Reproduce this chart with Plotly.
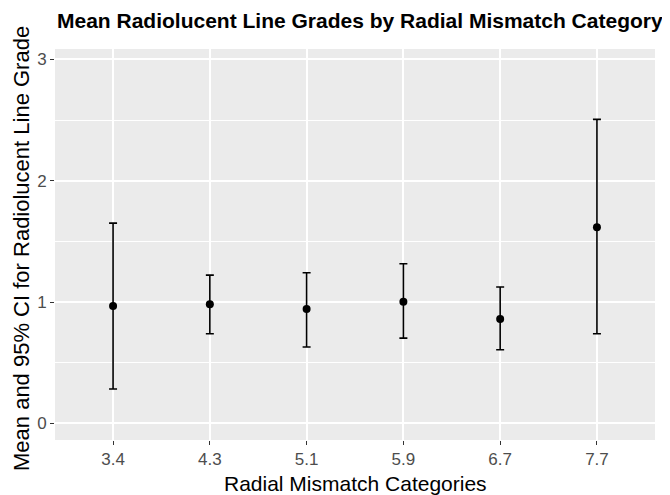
import plotly.graph_objects as go

categories = ["3.4", "4.3", "5.1", "5.9", "6.7", "7.7"]
means = [0.967, 0.981, 0.942, 1.003, 0.860, 1.616]
upper = [1.651, 1.222, 1.242, 1.316, 1.124, 2.506]
lower = [0.283, 0.739, 0.629, 0.703, 0.607, 0.739]
y_ticks = [0, 1, 2, 3]

err_plus = [u - m for u, m in zip(upper, means)]
err_minus = [m - l for m, l in zip(means, lower)]

FONT = "Liberation Sans, Arial, sans-serif"
OFF = 8  # default page body margin
W, H = 670 - OFF, 495 - OFF
# target panel box in window pixels
PL, PR, PT, PB = 55, 655, 49, 440
ml, mr, mt, mb = PL - OFF, W - (PR - OFF), PT - OFF, H - (PB - OFF)
pw, ph = PR - PL, PB - PT

fig = go.Figure()
fig.add_trace(go.Scatter(
    x=categories, y=means, mode="markers",
    marker=dict(color="black", size=8),
    error_y=dict(type="data", symmetric=False, array=err_plus, arrayminus=err_minus,
                 color="black", thickness=1.6, width=4),
    showlegend=False,
))

fig.update_layout(
    width=W, height=H,
    margin=dict(l=ml, r=mr, t=mt, b=mb, autoexpand=False),
    paper_bgcolor="white",
    plot_bgcolor="#EBEBEB",
    font=dict(family=FONT, color="black"),
    title=dict(text="<b>Mean Radiolucent Line Grades by Radial Mismatch Category</b>",
               font=dict(size=21, family=FONT, color="black"),
               x=(57 - OFF) / W, xanchor="left", xref="container",
               y=1 - (21 - OFF) / H, yanchor="middle", yref="container"),
    xaxis=dict(
        type="category", range=[-0.6, 5.6], automargin=False,
        showgrid=True, gridcolor="white", gridwidth=2,
        ticks="outside", ticklen=4, tickcolor="#333333", tickwidth=1,
        tickfont=dict(size=17, color="#4D4D4D", family=FONT),
        zeroline=False, showline=False,
    ),
    yaxis=dict(
        range=[-0.137, 3.086], automargin=False,
        tickvals=y_ticks,
        showgrid=True, gridcolor="white", gridwidth=2,
        minor=dict(tickvals=[0.5, 1.5, 2.5], showgrid=True, gridcolor="white", gridwidth=1.2, ticks=""),
        ticks="outside", ticklen=4, tickcolor="#333333", tickwidth=1,
        tickfont=dict(size=17, color="#4D4D4D", family=FONT),
        zeroline=False, showline=False,
    ),
    annotations=[
        dict(text="Radial Mismatch Categories", font=dict(size=21, family=FONT, color="black"),
             xref="paper", x=0.5, xanchor="center",
             yref="paper", y=-(483 - PB) / ph, yanchor="middle",
             showarrow=False),
        dict(text="Mean and 95% CI for Radiolucent Line Grade", font=dict(size=22, family=FONT, color="black"),
             textangle=-90,
             xref="paper", x=-(PL - 22) / pw, xanchor="center",
             yref="paper", y=(PB - 249) / ph, yanchor="middle",
             showarrow=False),
    ],
)

fig.write_html("out.html")
